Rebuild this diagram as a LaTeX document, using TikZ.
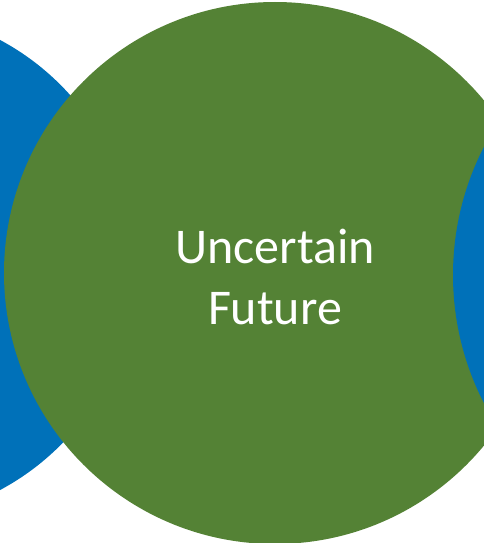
\documentclass[tikz,border=0pt]{standalone}
\usepackage{fontspec}
\setmainfont{Carlito}
\definecolor{circblue}{RGB}{0,113,185}
\definecolor{circgreen}{RGB}{84,130,53}
\tikzset{
  bluecirc/.style={circle, fill=circblue, draw=none, inner sep=0pt},
  greencirc/.style={circle, fill=circgreen, draw=none, inner sep=0pt},
  label/.style={text=white, align=center, font=\fontsize{50}{61}\selectfont}
}
\begin{document}
\begin{tikzpicture}[x=1pt,y=-1pt]
\useasboundingbox (0,0) rectangle (484,543);
\begin{scope}
\clip (0,0) rectangle (484,543);
\node[bluecirc, minimum size=510pt] (left) at (-120,265) {};
\node[greencirc, minimum size=542pt] (mid) at (275,273) {};
\node[bluecirc, minimum size=560pt] (right) at (733,275) {};
\end{scope}
\node[label] (txt) at (275,277) {Uncertain\\Future};
\end{tikzpicture}
\end{document}
